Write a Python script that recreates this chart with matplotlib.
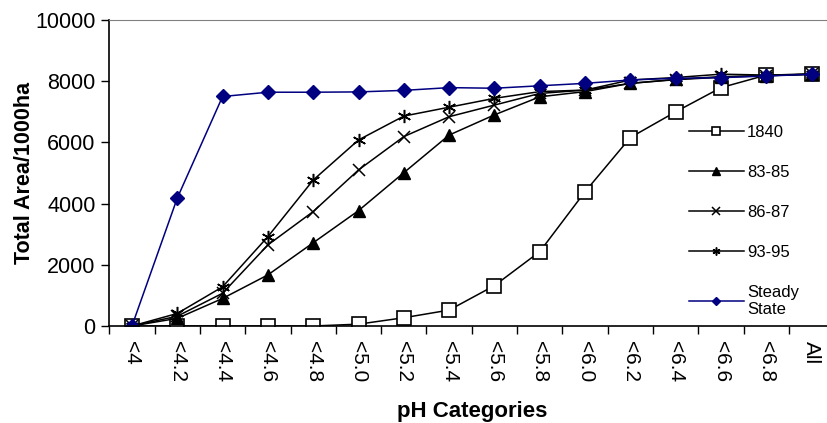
import numpy as np
import matplotlib
matplotlib.use('Agg')
import matplotlib.pyplot as plt

plt.rcParams['font.family'] = ['Liberation Sans', 'DejaVu Sans']

#%% Data
categories = ['<4', '<4.2', '<4.4', '<4.6', '<4.8', '<5.0', '<5.2', '<5.4',
              '<5.6', '<5.8', '<6.0', '<6.2', '<6.4', '<6.6', '<6.8', 'All']
y_1840 = [0, 0, 0, 0, 0, 60, 270, 520, 1320, 2430, 4390, 6160, 7000, 7790, 8200, 8230]
y_8385 = [0, 250, 900, 1670, 2720, 3770, 5010, 6240, 6900, 7490, 7660, 7930, 8060, 8150, 8180, 8230]
y_8687 = [0, 320, 1070, 2650, 3740, 5100, 6190, 6840, 7220, 7600, 7710, 7930, 8050, 8130, 8180, 8230]
y_9395 = [0, 410, 1280, 2920, 4770, 6080, 6860, 7150, 7440, 7660, 7710, 8040, 8120, 8230, 8200, 8230]
y_steady = [0, 4180, 7500, 7640, 7640, 7650, 7700, 7790, 7770, 7850, 7930, 8040, 8095, 8115, 8170, 8225]

x = np.arange(len(categories))

#%% Figure
fig = plt.figure(figsize=(8.27, 4.23), dpi=100)
ax = fig.add_axes([109.3 / 827, 97 / 423, 725 / 827, 306 / 423])

ax.plot(x, y_1840, color='black', lw=1.1, marker='s', ms=9.5, mfc='white', mec='black', mew=1.2,
        label='1840')
ax.plot(x, y_8385, color='black', lw=1.1, marker='^', ms=9, mfc='black', mec='black',
        label='83-85')
ax.plot(x, y_8687, color='black', lw=1.1, marker='x', ms=9, mew=1.1, label='86-87')
ax.plot(x, y_9395, color='black', lw=1.1, marker=(6, 2, 0), ms=9.5, mew=1.1, label='93-95')
ax.plot(x, y_steady, color='#000080', lw=1.1, marker='D', ms=7.5, mfc='#000080', mec='#000080',
        label='Steady\nState')

ax.set_xlim(-0.5, len(categories) - 0.5)
ax.set_ylim(0, 10000)
ax.set_yticks(np.arange(0, 10001, 2000))
ax.tick_params(axis='y', labelsize=15.5, length=6, width=1, direction='out', pad=4)

ax.set_xticks(x)
ax.set_xticklabels(categories, rotation=-90, fontsize=15, va='top')
ax.tick_params(axis='x', which='major', length=0, pad=11)
ax.set_xticks(np.arange(-0.5, len(categories)), minor=True)
ax.tick_params(axis='x', which='minor', length=6, width=1, direction='out')

ax.set_xlabel('pH Categories', fontsize=16, fontweight='bold', labelpad=13)
ax.set_ylabel('Total Area/1000ha', fontsize=15.5, fontweight='bold', labelpad=0)

for side in ['top', 'right']:
    ax.spines[side].set_color('#808080')
for side in ['left', 'bottom']:
    ax.spines[side].set_color('black')
    ax.spines[side].set_linewidth(1.2)

leg = ax.legend(loc='upper left', bbox_to_anchor=(0.79, 0.68), frameon=False, fontsize=12,
                handlelength=3.3, labelspacing=1.5, handletextpad=0.2, borderaxespad=0,
                markerscale=0.6)

fig.savefig('out.png', dpi=100)
